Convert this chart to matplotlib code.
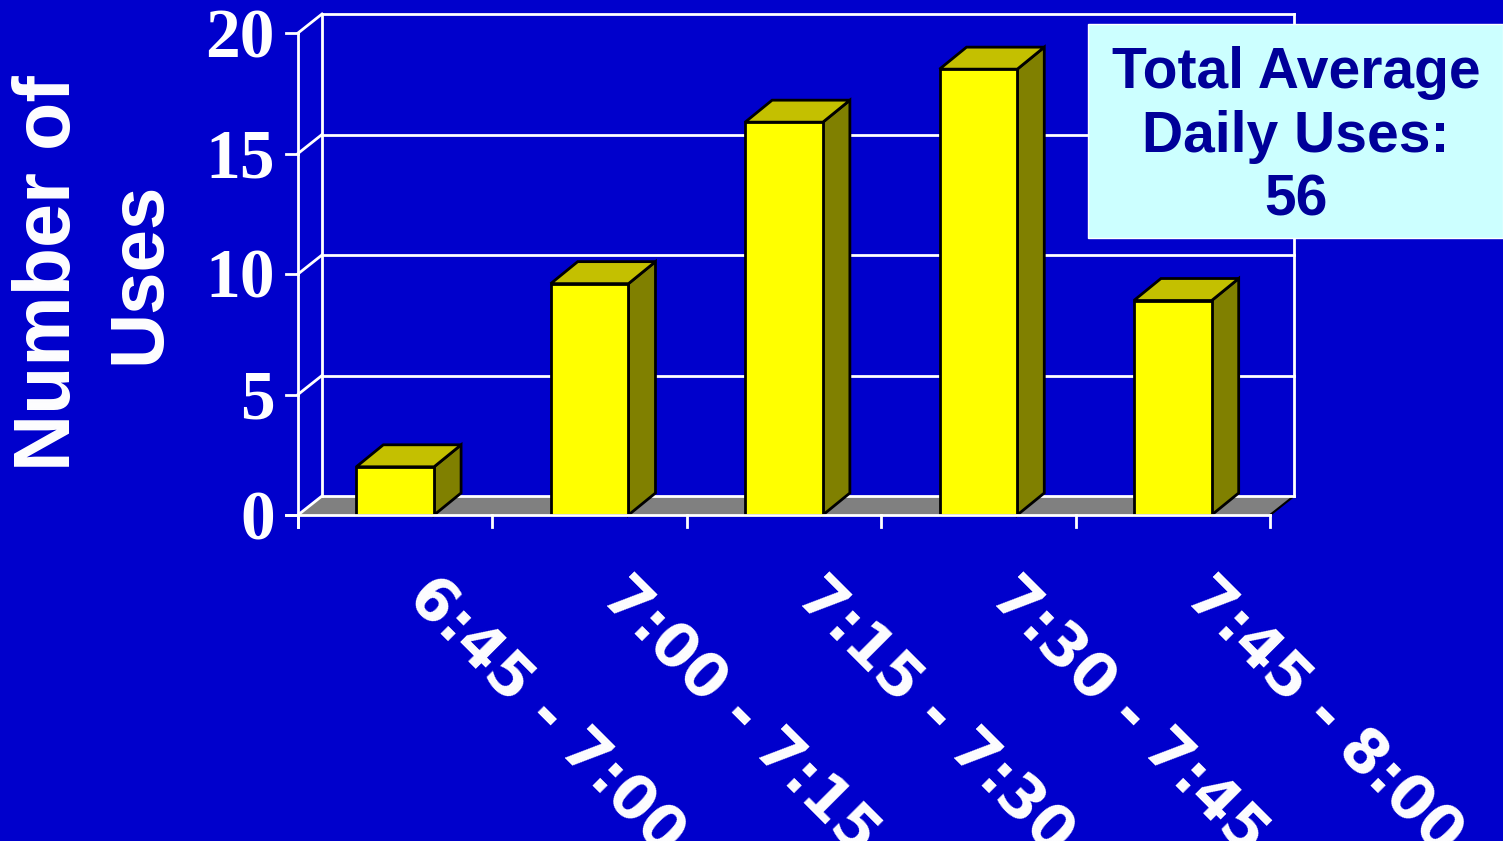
import matplotlib.pyplot as plt
from matplotlib.patches import Polygon, Rectangle

# datos del grafico
categorias = ['6:45 - 7:00', '7:00 - 7:15', '7:15 - 7:30', '7:30 - 7:45', '7:45 - 8:00']
usos = [2.0, 9.6, 16.3, 18.5, 8.9]
ticks_y = [0, 5, 10, 15, 20]
texto_total = ['Total Average', 'Daily Uses:', '56']

fondo = '#0000CC'
W, H = 1503, 841

fig = plt.figure(figsize=(W / 100, H / 100), dpi=100, facecolor=fondo)
ax = fig.add_axes([298 / W, 1 - 515 / H, 972 / W, 482 / H])
ax.set_xlim(0, len(categorias))
ax.set_ylim(0, 20)
ax.axis('off')

# profundidad 3D en unidades de datos
px_x = 972 / len(categorias)
px_y = 482 / 20
dxw, dyw = 24 / px_x, 19 / px_y
dxb, dyb = 27 / px_x, 22 / px_y
n = len(categorias)

# piso gris
piso = Polygon([(0, 0), (dxw, dyw), (n + dxw, dyw), (n, 0)], closed=True,
               facecolor='#808080', edgecolor='none', clip_on=False, zorder=1)
ax.add_patch(piso)
ax.plot([n, n + dxw], [0, dyw], color='black', lw=1.5, clip_on=False, zorder=1.5)

# pared del fondo
for v in ticks_y:
    ax.plot([dxw, n + dxw], [v + dyw, v + dyw], color='white', lw=2, clip_on=False, zorder=2)
    ax.plot([0, dxw], [v, v + dyw], color='white', lw=2, clip_on=False, zorder=2)
ax.plot([dxw, dxw], [dyw, 20 + dyw], color='white', lw=2, clip_on=False, zorder=2)
ax.plot([n + dxw, n + dxw], [dyw, 20 + dyw], color='white', lw=2, clip_on=False, zorder=2)

# ejes frontales
ax.plot([0, 0], [-12 / px_y, 20], color='white', lw=2, clip_on=False, zorder=5)
ax.plot([-12 / px_x, n], [0, 0], color='white', lw=2, clip_on=False, zorder=5)
for i in range(n + 1):
    ax.plot([i, i], [0, -12 / px_y], color='white', lw=2, clip_on=False, zorder=5)
for v in ticks_y:
    ax.plot([-12 / px_x, 0], [v, v], color='white', lw=2, clip_on=False, zorder=5)
    ax.annotate(str(v), xy=(0, v), xytext=(-23, -24), textcoords='offset pixels',
                ha='right', va='baseline', color='white', fontsize=50,
                family='Liberation Serif', weight='bold')

# barras
w = 0.4
for i, v in enumerate(usos):
    c = i + 0.5
    x0, x1 = c - w / 2, c + w / 2
    frente = Rectangle((x0, 0), w, v, facecolor='#FFFF00', edgecolor='black',
                       lw=2, clip_on=False, zorder=3)
    tapa = Polygon([(x0, v), (x0 + dxb, v + dyb), (x1 + dxb, v + dyb), (x1, v)],
                   closed=True, facecolor='#C4C000', edgecolor='black', lw=2,
                   clip_on=False, zorder=3)
    lado = Polygon([(x1, 0), (x1 + dxb, dyb), (x1 + dxb, v + dyb), (x1, v)],
                   closed=True, facecolor='#808000', edgecolor='black', lw=2,
                   clip_on=False, zorder=3)
    ax.add_patch(lado)
    ax.add_patch(tapa)
    ax.add_patch(frente)
    ax.annotate(categorias[i], xy=(c, 0), xytext=(43, -52), textcoords='offset pixels',
                ha='left', va='top', rotation=-45, rotation_mode='anchor',
                color='white', fontsize=43, family='DejaVu Sans', weight='bold',
                annotation_clip=False)

# titulo del eje y
fig.text(50 / W, 1 - 273 / H, 'Number of', rotation=90, ha='center', va='center',
         color='white', fontsize=57, family='Liberation Sans', weight='bold')
fig.text(140 / W, 1 - 273 / H, 'Uses', rotation=90, ha='center', va='center',
         color='white', fontsize=55, family='Liberation Sans', weight='bold')

# cuadro con total
caja = Rectangle((1088 / W, 1 - 238 / H), (1503 - 1088) / W, (238 - 24) / H,
                 transform=fig.transFigure, facecolor='#CCFFFF', edgecolor='white',
                 lw=1, zorder=10)
fig.patches.append(caja)
for linea, base in zip(texto_total, [88, 152, 215]):
    fig.text(1296 / W, 1 - base / H, linea, ha='center', va='baseline',
             color='#000099', fontsize=41, family='Liberation Sans', weight='bold',
             zorder=11)

fig.savefig('out.png', dpi=100, facecolor=fondo)
